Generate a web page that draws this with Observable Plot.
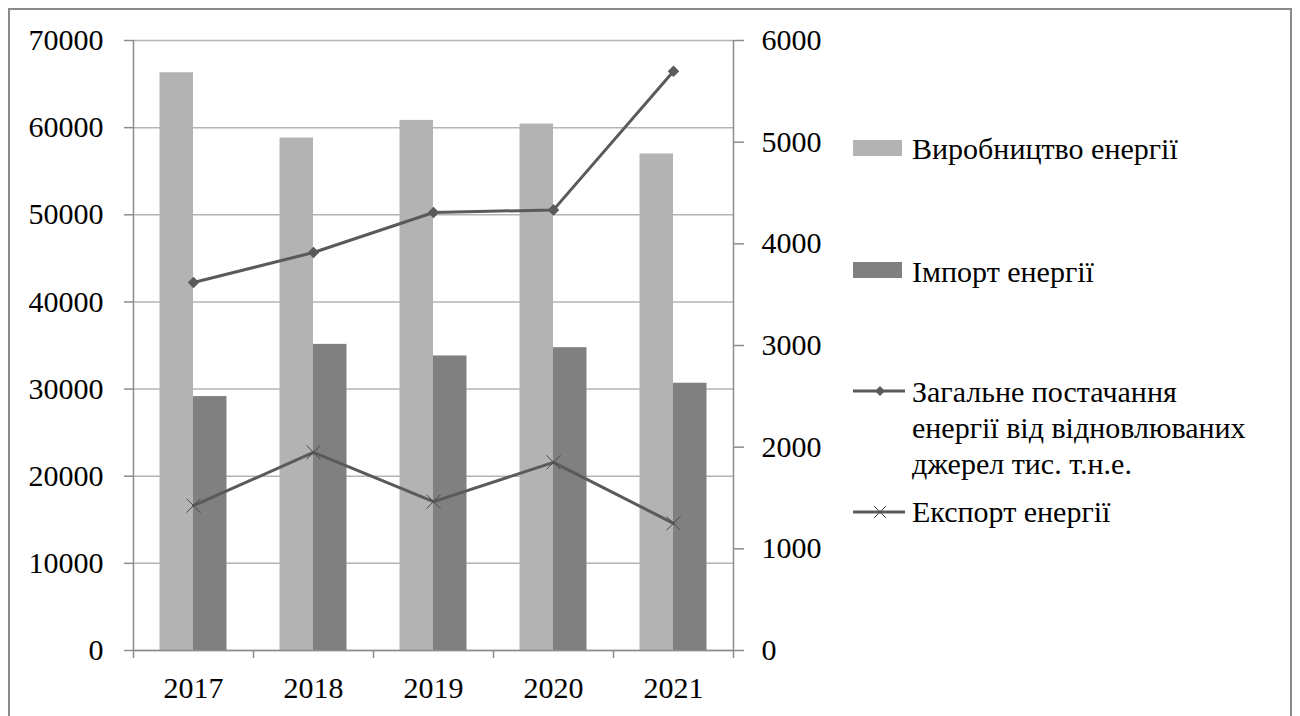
<!DOCTYPE html>
<html>
<head>
<meta charset="utf-8">
<script src="https://cdn.jsdelivr.net/npm/d3@7"></script>
<script src="https://cdn.jsdelivr.net/npm/@observablehq/plot@0.6"></script>
<style>
  @font-face { font-family: 'ChartSerif'; src: local('Liberation Serif'), local('LiberationSerif'), local('Times New Roman'); }
  body { margin: 0; font-size: 30px; font-family: 'Times New Roman', 'Liberation Serif', serif; }
</style>
</head>
<body>
<div id="wrap" style="position:relative;width:1300px;height:716px;font-family:'Times New Roman','Liberation Serif',serif">
  <div id="chart"></div>
</div>
<script>
const years = [2017, 2018, 2019, 2020, 2021];
const production = [66300, 58810, 60830, 60410, 56980];
const imports = [29140, 35130, 33800, 34750, 30670];
const renewables = [3620, 3915, 4308, 4334, 5697];
const exportValues = [1425, 1949, 1464, 1851, 1251];

const leftTicks = [0, 10000, 20000, 30000, 40000, 50000, 60000, 70000];
const rightTicks = [0, 1000, 2000, 3000, 4000, 5000, 6000];

const legendLines = [
  ["Виробництво енергії"],
  ["Імпорт енергії"],
  ["Загальне постачання", "енергії від відновлюваних", "джерел тис. т.н.е."],
  ["Експорт енергії"]
];

const leftMax = 70000, rightMax = 6000;
const k = leftMax / rightMax;

const rows = years.map((y, i) => ({
  year: y, production: production[i], imports: imports[i],
  renewables: renewables[i], exportValue: exportValues[i]
}));

const xMin = years[0] - 0.5, xMax = years[years.length - 1] + 0.5;
const bounds = d3.range(xMin, xMax + 0.001, 1);

const lineColor = "#5a5a5a";
const axisColor = "#8c8c8c";
const FONT = "Times New Roman";

const chart = Plot.plot({
  width: 1300,
  height: 716,
  marginLeft: 133,
  marginRight: 567,
  marginTop: 40,
  marginBottom: 66,
  style: { fontFamily: "'Times New Roman', 'Liberation Serif', serif", fontSize: "30px", color: "#000" },
  x: { type: "linear", domain: [xMin, xMax] },
  y: { domain: [0, leftMax] },
  marks: [
    Plot.gridY(leftTicks, { stroke: "#b4b4b4", strokeOpacity: 1, strokeWidth: 1.5 }),
    Plot.rectY(rows, { x1: d => d.year - 0.5, x2: d => d.year + 0.5, y: "production", fill: "#b3b3b3", insetLeft: 26.5, insetRight: 60 }),
    Plot.rectY(rows, { x1: d => d.year - 0.5, x2: d => d.year + 0.5, y: "imports", fill: "#808080", insetLeft: 60, insetRight: 26.5 }),
    Plot.ruleY([0], { stroke: axisColor, strokeWidth: 1.5 }),
    Plot.ruleX([xMin, xMax], { stroke: axisColor, strokeWidth: 1.5 }),
    Plot.axisY(leftTicks, { anchor: "left", tickSize: 9, tickPadding: 21, stroke: axisColor, strokeWidth: 1.5, tickFormat: d => String(d), label: null, fontSize: 30, fontFamily: FONT }),
    Plot.axisY(rightTicks.map(v => v * k), { anchor: "right", tickSize: 10, tickPadding: 18, stroke: axisColor, strokeWidth: 1.5, tickFormat: d => String(Math.round(d / k)), label: null, fontSize: 30, fontFamily: FONT }),
    Plot.axisX(bounds, { tickSize: 8, stroke: axisColor, strokeWidth: 1.5, tickFormat: () => "", label: null }),
    Plot.axisX(years, { tickSize: 0, tickPadding: 26, tickFormat: d => String(d), label: null, fontSize: 30, fontFamily: FONT }),
    Plot.line(rows, { x: "year", y: d => d.renewables * k, stroke: lineColor, strokeWidth: 3 }),
    Plot.dot(rows, { x: "year", y: d => d.renewables * k, symbol: "diamond2", r: 5.2, fill: lineColor, stroke: "none" }),
    Plot.line(rows, { x: "year", y: d => d.exportValue * k, stroke: lineColor, strokeWidth: 3 }),
    Plot.dot(rows, { x: "year", y: d => d.exportValue * k, symbol: "times", r: 6.4, stroke: "#4a4a4a", strokeWidth: 1 })
  ]
});
document.getElementById("chart").appendChild(chart);

// Outer border and legend
const wrap = document.getElementById("wrap");
const border = document.createElement("div");
border.style.cssText = "position:absolute;left:8px;top:8px;width:1284px;height:708px;border:2px solid #8a8a8a;border-bottom:none;box-sizing:border-box;pointer-events:none";
wrap.appendChild(border);

function addText(lines, top) {
  const d = document.createElement("div");
  d.style.position = "absolute";
  d.style.left = "912px";
  d.style.top = top + "px";
  d.style.fontFamily = "'Times New Roman', 'Liberation Serif', serif";
  d.style.fontSize = "30px";
  d.style.lineHeight = "36px";
  d.style.whiteSpace = "nowrap";
  d.style.color = "#000";
  lines.forEach(t => {
    const ln = document.createElement("div");
    ln.textContent = t;
    d.appendChild(ln);
  });
  wrap.appendChild(d);
}
function addRect(color, top) {
  const s = document.createElement("div");
  s.style.cssText = "position:absolute;left:853px;width:49px;height:16px;top:" + top + "px;background:" + color;
  wrap.appendChild(s);
}
function addLineSwatch(top, marker) {
  const ns = "http://www.w3.org/2000/svg";
  const svg = document.createElementNS(ns, "svg");
  svg.setAttribute("width", 56); svg.setAttribute("height", 20);
  svg.style.position = "absolute"; svg.style.left = "851px"; svg.style.top = (top - 10) + "px";
  const l = document.createElementNS(ns, "line");
  l.setAttribute("x1", 2); l.setAttribute("x2", 54); l.setAttribute("y1", 10); l.setAttribute("y2", 10);
  l.setAttribute("stroke", lineColor); l.setAttribute("stroke-width", 3);
  svg.appendChild(l);
  const p = document.createElementNS(ns, "path");
  if (marker === "diamond") {
    p.setAttribute("d", "M29,5L34,10L29,15L24,10Z");
    p.setAttribute("fill", lineColor);
  } else {
    p.setAttribute("d", "M23,4L35,16M35,4L23,16");
    p.setAttribute("stroke", "#4a4a4a"); p.setAttribute("stroke-width", 1); p.setAttribute("fill", "none");
  }
  svg.appendChild(p);
  wrap.appendChild(svg);
}
addRect("#b3b3b3", 140);
addText(legendLines[0], 131);
addRect("#808080", 262);
addText(legendLines[1], 254);
addLineSwatch(391, "diamond");
addText(legendLines[2], 374);
addLineSwatch(512, "times");
addText(legendLines[3], 494);
</script>
</body>
</html>
